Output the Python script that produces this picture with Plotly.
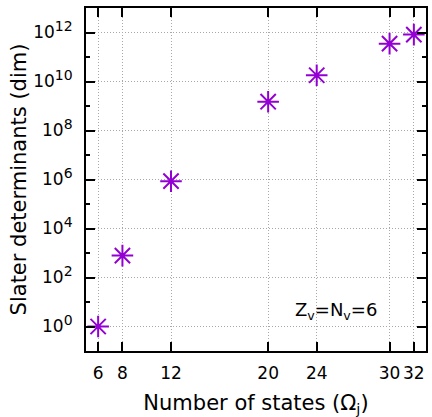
import plotly.graph_objects as go

# Data
n_states = [6, 8, 12, 20, 24, 30, 32]
slater_dim = [1, 784, 853776, 1.5e9, 1.8e10, 3.5e11, 8.2e11]

x_ticks = [6, 8, 12, 20, 24, 30, 32]
y_major_exp = [0, 2, 4, 6, 8, 10, 12]
y_minor_exp = [-1, 1, 3, 5, 7, 9, 11, 13]

FONT = "DejaVu Sans"
PURPLE = "#9400D3"
GRID = "#a8a8a8"

fig = go.Figure()
fig.add_trace(go.Scatter(
    x=n_states, y=slater_dim, mode="markers",
    marker=dict(symbol="asterisk-open", size=18, color=PURPLE,
                line=dict(color=PURPLE, width=2)),
    showlegend=False, cliponaxis=False,
))

fig.update_layout(
    width=432, height=417,
    margin=dict(l=86, r=4, t=8, b=66),
    paper_bgcolor="white", plot_bgcolor="white",
    font=dict(family=FONT, size=17, color="black"),
    xaxis=dict(
        range=[5, 33], tickvals=x_ticks, ticktext=[str(v) for v in x_ticks],
        ticks="inside", ticklen=9, tickwidth=1.5, tickcolor="black",
        showline=True, linewidth=2, linecolor="black", mirror="allticks",
        showgrid=True, gridcolor=GRID, griddash="1px,2px", gridwidth=1,
        zeroline=False, ticklabelstandoff=6,
        tickfont=dict(size=17),
        title=dict(text="Number of states (Ω<sub>j</sub>)", standoff=15,
                   font=dict(size=21)),
    ),
    yaxis=dict(
        type="log", range=[-1, 13],
        tickvals=[10 ** e for e in y_major_exp],
        ticktext=[f"10<sup><span style='font-size:14px'>{e}</span></sup>"
                  for e in y_major_exp],
        ticks="inside", ticklen=9, tickwidth=1.5, tickcolor="black",
        showline=True, linewidth=2, linecolor="black", mirror="allticks",
        showgrid=True, gridcolor=GRID, griddash="1px,2px", gridwidth=1,
        zeroline=False, ticklabelstandoff=8,
        tickfont=dict(size=17),
        minor=dict(tickvals=[10 ** e for e in y_minor_exp], ticks="inside",
                   ticklen=4, tickwidth=1.5, tickcolor="black", showgrid=False),
        title=dict(text="Slater determinants (dim)", standoff=1,
                   font=dict(size=21)),
    ),
    annotations=[dict(
        x=25.6, y=0.62, xref="x", yref="y",
        text="Z<sub>v</sub>=N<sub>v</sub>=6", showarrow=False,
        font=dict(family=FONT, size=18, color="black"),
    )],
)

fig.write_html("out.html")
